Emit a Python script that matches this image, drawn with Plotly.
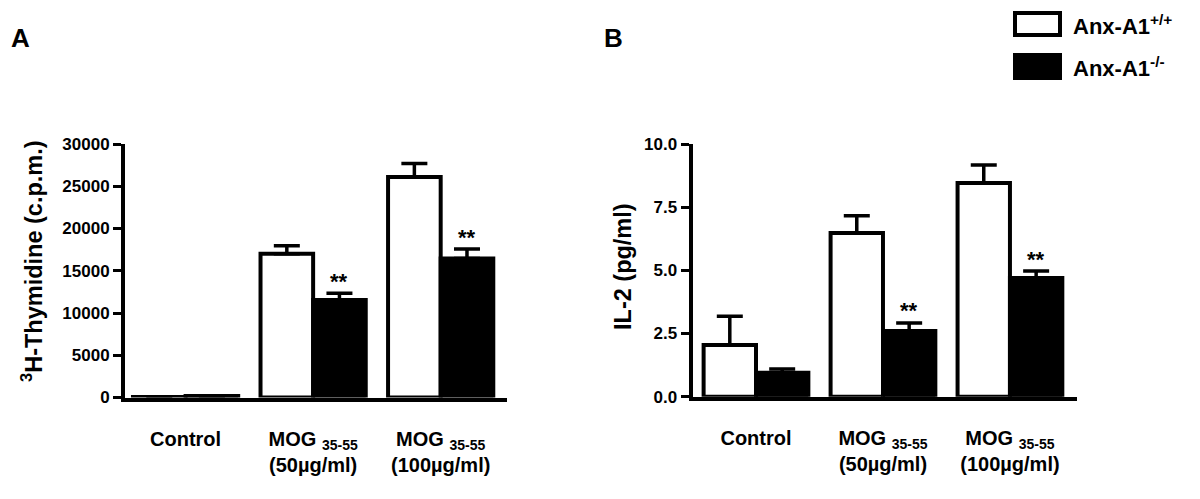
import plotly.graph_objects as go
from plotly.subplots import make_subplots

# ---------------- data ----------------
categories = ["Control", "MOG 35-55 (50µg/ml)", "MOG 35-55 (100µg/ml)"]
tick_text = ["Control", "MOG <sub>35-55</sub><br>(50µg/ml)", "MOG <sub>35-55</sub><br>(100µg/ml)"]
series_names = ["Anx-A1<sup>+/+</sup>", "Anx-A1<sup>-/-</sup>"]

thy_wt = [60, 17000, 26100]
thy_wt_err = [0, 950, 1600]
thy_ko = [180, 11550, 16450]
thy_ko_err = [0, 800, 1120]
thy_sig = ["", "**", "**"]

il2_wt = [2.05, 6.48, 8.46]
il2_wt_err = [1.13, 0.68, 0.71]
il2_ko = [0.95, 2.60, 4.70]
il2_ko_err = [0.15, 0.32, 0.27]
il2_sig = ["", "**", "**"]

thy_ticks = [0, 5000, 10000, 15000, 20000, 25000, 30000]
il2_ticks = [0.0, 2.5, 5.0, 7.5, 10.0]
il2_ticklabels = ["0.0", "2.5", "5.0", "7.5", "10.0"]

# ---------------- figure ----------------
FONT = "Arial, Liberation Sans, Helvetica, sans-serif"
W, H = 1200, 499
xpos = list(range(len(categories)))

fig = make_subplots(rows=1, cols=2)

def add_pair(wt, wt_err, ko, ko_err, row, col):
    fig.add_trace(go.Bar(
        x=xpos, y=wt, name=series_names[0], showlegend=False,
        marker=dict(color="white", line=dict(color="black", width=4)),
        error_y=dict(type="data", array=wt_err, arrayminus=[0] * len(wt),
                     symmetric=False, color="black", thickness=3.5, width=13),
        hovertext=categories,
    ), row=row, col=col)
    fig.add_trace(go.Bar(
        x=xpos, y=ko, name=series_names[1], showlegend=False,
        marker=dict(color="black", line=dict(color="black", width=4)),
        error_y=dict(type="data", array=ko_err, arrayminus=[0] * len(ko),
                     symmetric=False, color="black", thickness=3.5, width=13),
        hovertext=categories,
    ), row=row, col=col)

add_pair(thy_wt, thy_wt_err, thy_ko, thy_ko_err, 1, 1)
add_pair(il2_wt, il2_wt_err, il2_ko, il2_ko_err, 1, 2)

bargap = 0.175
half = (1 - bargap) / 4.0  # offset of black bar centre from category centre

tickfont = dict(family=FONT, size=17, color="black", weight="bold")
xtickfont = dict(family=FONT, size=20, color="black", weight="bold")

common_x = dict(showline=True, linecolor="black", linewidth=4, ticks="",
                showgrid=False, zeroline=False, tickvals=xpos, ticktext=tick_text,
                tickfont=xtickfont, ticklabelstandoff=20, fixedrange=True,
                automargin=False)
common_y = dict(showline=True, linecolor="black", linewidth=4, ticks="outside",
                ticklen=8, tickwidth=3, tickcolor="black", showgrid=False,
                zeroline=False, tickfont=tickfont, fixedrange=True,
                automargin=False)

fig.update_layout(
    width=W, height=H, autosize=False,
    margin=dict(l=0, r=0, t=0, b=0, pad=0, autoexpand=False),
    paper_bgcolor="white", plot_bgcolor="white",
    barmode="group", bargap=bargap, bargroupgap=0,
    showlegend=False,
    xaxis=dict(domain=[125 / W, 507 / W], range=[-0.475, 2.52], **common_x),
    yaxis=dict(domain=[1 - 397.5 / H, 1 - 144 / H], range=[0, 30000],
               tickvals=thy_ticks, ticktext=[str(v) for v in thy_ticks], **common_y),
    xaxis2=dict(domain=[692.5 / W, 1077 / W], range=[-0.5, 2.528], **common_x),
    yaxis2=dict(domain=[1 - 396.7 / H, 1 - 144 / H], range=[0, 10],
                tickvals=il2_ticks, ticktext=il2_ticklabels, **common_y),
)

ann = []
# significance stars above the knockout bars
for i, s in enumerate(thy_sig):
    if s:
        ann.append(dict(x=i + half, y=thy_ko[i] + thy_ko_err[i], xref="x", yref="y",
                        text=s, showarrow=False, yanchor="middle", yshift=12,
                        font=dict(family=FONT, size=22, color="black", weight="bold")))
for i, s in enumerate(il2_sig):
    if s:
        ann.append(dict(x=i + half, y=il2_ko[i] + il2_ko_err[i], xref="x2", yref="y2",
                        text=s, showarrow=False, yanchor="middle", yshift=12,
                        font=dict(family=FONT, size=22, color="black", weight="bold")))

# y-axis titles
ann.append(dict(x=32 / W, y=1 - 261 / H, xref="paper", yref="paper",
                text="<sup>3</sup>H-Thymidine (c.p.m.)", textangle=-90, showarrow=False,
                xanchor="center", yanchor="middle",
                font=dict(family=FONT, size=23.5, color="black", weight="bold")))
ann.append(dict(x=623 / W, y=1 - 267 / H, xref="paper", yref="paper",
                text="IL-2 (pg/ml)", textangle=-90, showarrow=False,
                xanchor="center", yanchor="middle",
                font=dict(family=FONT, size=23.5, color="black", weight="bold")))

# panel letters
ann.append(dict(x=9 / W, y=1 - 38 / H, xref="paper", yref="paper", text="A",
                showarrow=False, xanchor="left", yanchor="middle",
                font=dict(family=FONT, size=26, color="black", weight="bold")))
ann.append(dict(x=602 / W, y=1 - 38 / H, xref="paper", yref="paper", text="B",
                showarrow=False, xanchor="left", yanchor="middle",
                font=dict(family=FONT, size=26, color="black", weight="bold")))

# legend (drawn manually for large swatches)
legend_fill = ["white", "black"]
legend_rows = [(13, 35), (55, 78)]
shapes = []
for (y0, y1), fill, name in zip(legend_rows, legend_fill, series_names):
    shapes.append(dict(type="rect", xref="paper", yref="paper",
                       x0=1015 / W, x1=1060 / W, y0=1 - y1 / H, y1=1 - y0 / H,
                       fillcolor=fill, line=dict(color="black", width=4)))
    ann.append(dict(x=1071 / W, y=1 - ((y0 + y1) / 2 + 1) / H, xref="paper", yref="paper",
                    text=name, showarrow=False, xanchor="left", yanchor="middle",
                    font=dict(family=FONT, size=22, color="black", weight="bold")))

fig.update_layout(annotations=ann, shapes=shapes)

fig.write_html(
    "out.html",
    config={"displayModeBar": False},
    post_script="document.body.style.margin='0px';document.body.style.overflow='hidden';",
)
